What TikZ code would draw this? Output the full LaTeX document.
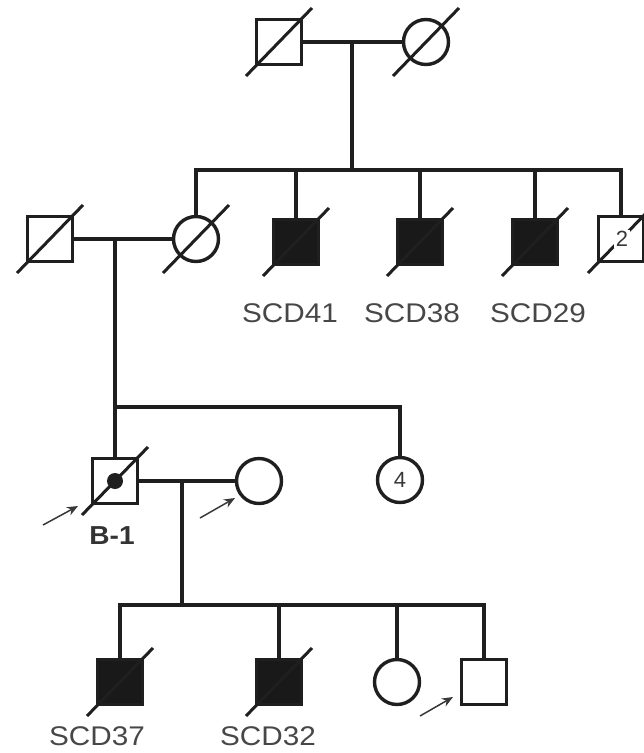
\documentclass[tikz,border=0pt]{standalone}
\usepackage{fontspec}
\usepackage{graphicx}
\setmainfont{Liberation Sans}
\usetikzlibrary{arrows.meta,calc}
\newcommand{\widetext}[1]{\scalebox{1.1}[1]{#1}}
\begin{document}
\begin{tikzpicture}[x=1pt,y=-1pt,
  ln/.style={line width=3.4pt, draw=black!88},
  person/.style={draw=black!88, line width=3.4pt, minimum size=45pt, inner sep=0pt, fill=white},
  male/.style={person, rectangle},
  female/.style={person, circle},
  aff/.style={fill=black!90},
  slash/.style={line width=3pt, draw=black!88},
  lab/.style={text=black!72, font=\fontsize{27}{30}\selectfont, inner sep=0pt},
  blab/.style={text=black!80, font=\bfseries\fontsize{26}{30}\selectfont, inner sep=0pt},
  numlab/.style={text=black!78, font=\fontsize{22}{24}\selectfont, inner sep=1pt},
  arr/.style={line width=1.5pt, draw=black!78, -{Stealth[length=11pt,width=9pt]}}
]
\useasboundingbox (0,0) rectangle (644,753);
\clip (0,0) rectangle (644,753);
\newcommand{\deceased}[1]{\draw[slash] ([shift={(-33,34)}]#1.center) -- ([shift={(33,-34)}]#1.center);}

% Generation I
\node[male] (i1) at (279,42) {};
\node[female] (i2) at (426,42) {};
\deceased{i1}
\deceased{i2}
\draw[ln] (i1.east) -- (i2.west);
\coordinate (m1) at (352,42);
\coordinate (s1) at (352,170);
\draw[ln] (m1) -- (s1);

% Generation II
\node[male] (ii1) at (50,239) {};
\node[female] (ii2) at (196,239) {};
\node[male,aff] (scd41) at (296,242) {};
\node[male,aff] (scd38) at (420,242) {};
\node[male,aff] (scd29) at (535,242) {};
\node[male] (ii7) at (621,239) {};
\deceased{ii1}
\deceased{ii2}
\deceased{scd41}
\deceased{scd38}
\deceased{scd29}
\deceased{ii7}
\node[numlab, fill=white, inner sep=1.5pt] (n2) at ([xshift=1pt]ii7.center) {2};
\draw[ln] (ii2.north) |- (ii7.north |- s1) -- (ii7.north);
\draw[ln] (scd41.north) -- (scd41.north |- s1);
\draw[ln] (scd38.north) -- (scd38.north |- s1);
\draw[ln] (scd29.north) -- (scd29.north |- s1);
\draw[ln] (ii1.east) -- (ii2.west);
\node[lab] (l41) at (290,313) {\widetext{SCD41}};
\node[lab] (l38) at (412,313) {\widetext{SCD38}};
\node[lab] (l29) at (538,313) {\widetext{SCD29}};

% Generation III
\coordinate (m2) at (115,239);
\coordinate (s2) at (115,407);
\node[male] (b1) at (115,481) {};
\node[female] (sp) at (259,481) {};
\node[female] (g4) at (400,480) {};
\node[numlab] (n4) at (g4.center) {4};
\draw[ln] (m2) -- (b1.north);
\draw[ln] (s2) -| (g4.north);
\fill[black!88] (b1.center) circle (8pt);
\deceased{b1}
\draw[ln] (b1.east) -- (sp.west);
\node[blab] (lb1) at (112,536) {\scalebox{1.08}[1]{B-1}};
\coordinate (a1s) at (43,525);
\coordinate (a1e) at (78,506);
\draw[arr] (a1s) -- (a1e);
\coordinate (a2s) at (200,518);
\coordinate (a2e) at (235,498);
\draw[arr] (a2s) -- (a2e);

% Generation IV
\coordinate (m3) at (182,481);
\coordinate (s3) at (182,605);
\draw[ln] (m3) -- (s3);
\node[male,aff] (scd37) at (120,682) {};
\node[male,aff] (scd32) at (279,682) {};
\node[female] (iv3) at (397,682) {};
\node[male] (iv4) at (484,682) {};
\deceased{scd37}
\deceased{scd32}
\draw[ln] (scd37.north) |- (iv4.north |- s3) -- (iv4.north);
\draw[ln] (scd32.north) -- (scd32.north |- s3);
\draw[ln] (iv3.north) -- (iv3.north |- s3);
\node[lab] (l37) at (97,736) {\widetext{SCD37}};
\node[lab] (l32) at (268,736) {\widetext{SCD32}};
\coordinate (a3s) at (420,716);
\coordinate (a3e) at (453,697);
\draw[arr] (a3s) -- (a3e);
\end{tikzpicture}
\end{document}
